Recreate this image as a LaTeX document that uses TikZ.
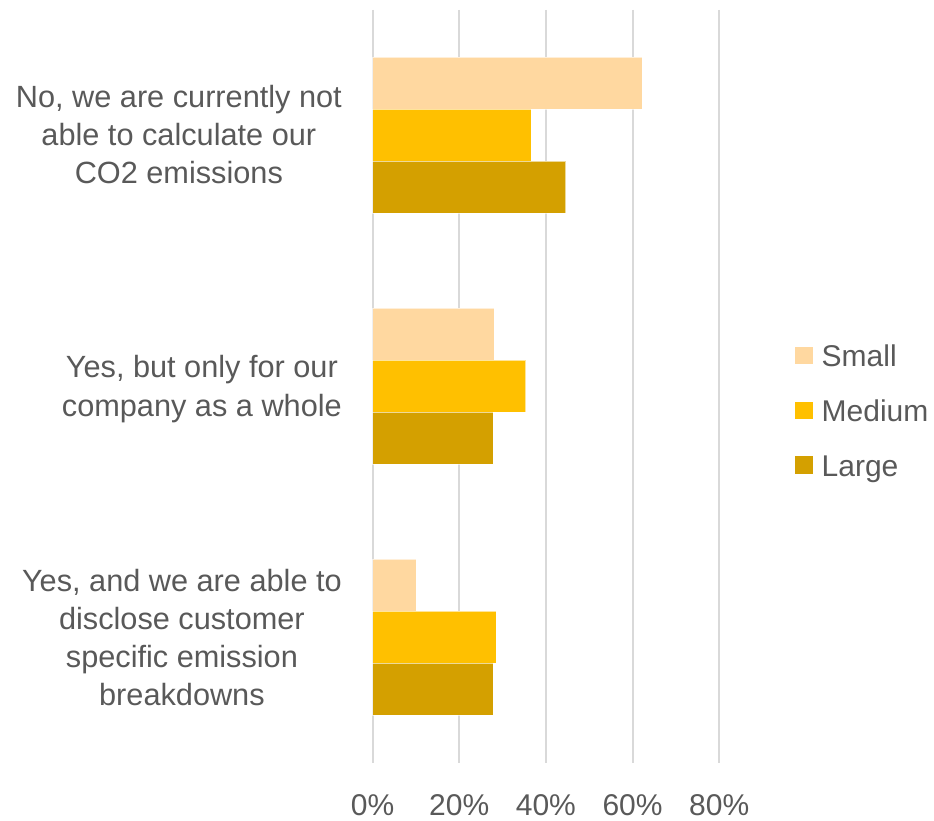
\documentclass[tikz,border=0pt]{standalone}
\usepackage{fontspec}
\setmainfont{Liberation Sans}
\definecolor{smallc}{RGB}{255,216,160}
\definecolor{mediumc}{RGB}{255,192,0}
\definecolor{largec}{RGB}{212,160,0}
\definecolor{gridc}{RGB}{217,217,217}
\definecolor{txt}{RGB}{89,89,89}
\begin{document}
\begin{tikzpicture}[x=1pt,y=-1pt,
  lbl/.style={font=\fontsize{30}{38.3}\selectfont, text=txt, inner sep=0pt},
  catlbl/.style={lbl, font=\fontsize{30.7}{38.3}\selectfont, anchor=base east},
  gridline/.style={draw=gridc, line width=2pt},
  bar/.style={draw=white, draw opacity=0.6, line width=0.8pt},
  smallbar/.style={bar, fill=smallc},
  mediumbar/.style={bar, fill=mediumc},
  largebar/.style={bar, fill=largec}]
\useasboundingbox (0,0) rectangle (934,821);
\def\xz{372.6}
\def\sc{4.333}
% gridlines and axis labels
\foreach \k/\t in {0/0\%,1/20\%,2/40\%,3/60\%,4/80\%}{
  \draw[gridline] ({\xz+\k*86.65},10) -- ({\xz+\k*86.65},763);
  \node[lbl, anchor=base] (ax\k) at ({\xz+\k*86.65},815) {\t};
}
% bars
\foreach \g/\s/\m/\l in {0/62.2/36.6/44.6, 1/28.1/35.3/27.9, 2/10.1/28.5/27.9}{
  \pgfmathsetmacro{\top}{57.2+\g*251.1}
  \draw[smallbar]  (\xz,\top) rectangle ({\xz+\s*\sc},{\top+52});
  \draw[mediumbar] (\xz,{\top+52}) rectangle ({\xz+\m*\sc},{\top+104});
  \draw[largebar]  (\xz,{\top+104}) rectangle ({\xz+\l*\sc},{\top+156});
}
% category labels
\node[catlbl] (c1) at (342,107.2)
  {\begin{tabular}[t]{@{}c@{}}No, we are currently not\\able to calculate our\\CO2 emissions\end{tabular}};
\node[catlbl] (c2) at (342,377.9)
  {\begin{tabular}[t]{@{}c@{}}Yes, but only for our\\company as a whole\end{tabular}};
\node[catlbl] (c3) at (342,591)
  {\begin{tabular}[t]{@{}c@{}}Yes, and we are able to\\disclose customer\\specific emission\\breakdowns\end{tabular}};
% legend
\fill[smallc]  (795,346.7) rectangle (812.5,364.2);
\fill[mediumc] (795,401.5) rectangle (812.5,419);
\fill[largec]  (795,456.3) rectangle (812.5,473.8);
\node[lbl, anchor=base west] (ls) at (821.5,366.5) {Small};
\node[lbl, anchor=base west] (lm) at (821.5,421.3) {Medium};
\node[lbl, anchor=base west] (ll) at (821.5,476.1) {Large};
\end{tikzpicture}
\end{document}
